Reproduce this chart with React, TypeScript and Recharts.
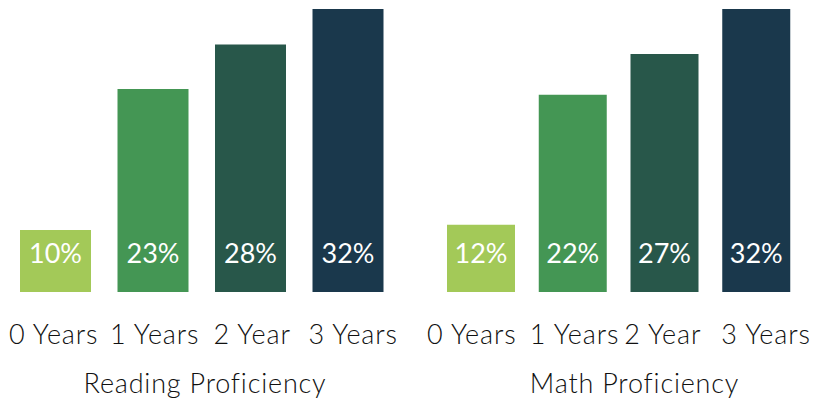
import React from 'react';
import { BarChart, Bar, XAxis, YAxis, Cell, LabelList } from 'recharts';

const categories = ['0 Years', '1 Years', '2 Year', '3 Years'];
const mathCategories = ['0 Years', '1 Years', '2 Year', '3 Years'];
const readingLabels = [10, 23, 28, 32];
const readingBars = [7.0, 22.95, 28.0, 32];
const mathLabels = [12, 22, 27, 32];
const mathBars = [7.6, 22.3, 26.9, 32];
const colors = ['#a3c958', '#449654', '#28574a', '#1a384c'];

const FONT = 'Lato, "Noto Sans", sans-serif';

function makeLabel(labels: number[]) {
  return (props: any) => {
    const { x, y, width, height, index } = props;
    return (
      <text
        x={x + width / 2}
        y={y + height - 40}
        fill="#ffffff"
        fontSize={27}
        fontFamily={FONT}
        fontWeight={400}
        textAnchor="middle"
        dominantBaseline="central"
      >
        {labels[index]}%
      </text>
    );
  };
}

function makeTick(shifts: number[]) {
  return (props: any) => {
    const { x, y, payload, index } = props;
    return (
      <text
        x={x + (shifts[index] || 0)}
        y={y + 19}
        fill="#111"
        fontSize={27}
        fontFamily={FONT}
        fontWeight={300}
        letterSpacing={0.9}
        textAnchor="middle"
      >
        {payload.value}
      </text>
    );
  };
}

function makeTitle(title: string, dx: number) {
  return (props: any) => {
    const vb = props.viewBox;
    return (
      <text
        x={vb.x + vb.width / 2 + dx}
        y={393}
        fill="#111"
        fontSize={27}
        letterSpacing={0.8}
        fontFamily={FONT}
        fontWeight={300}
        textAnchor="middle"
      >
        {title}
      </text>
    );
  };
}

function Panel(props: {
  cats: string[];
  bars: number[];
  labels: number[];
  title: string;
  left: number;
  width: number;
  mLeft: number;
  mRight: number;
  barSize: number;
  titleDx: number;
  tickShifts: number[];
}) {
  const data = props.cats.map((c, i) => ({ name: c, v: props.bars[i] }));
  return (
    <div style={{ position: 'absolute', left: props.left, top: 0 }}>
      <BarChart
        width={props.width}
        height={404}
        data={data}
        margin={{ top: 9, bottom: 0, left: props.mLeft, right: props.mRight }}
        barCategoryGap={0}
      >
        <YAxis hide domain={[0, 32]} />
        <XAxis
          dataKey="name"
          height={112}
          axisLine={false}
          tickLine={false}
          tickSize={0}
          tickMargin={33}
          interval={0}
          tick={makeTick(props.tickShifts)}
          label={{ content: makeTitle(props.title, props.titleDx) } as any}
        />
        <Bar dataKey="v" barSize={props.barSize} isAnimationActive={false}>
          {data.map((d, i) => (
            <Cell key={i} fill={colors[i]} />
          ))}
          <LabelList dataKey="v" content={makeLabel(props.labels)} />
        </Bar>
      </BarChart>
    </div>
  );
}

export default function App() {
  return (
    <div style={{ position: 'absolute', left: 0, top: 0, width: 815, height: 404, background: '#fff' }}>
      <Panel
        cats={categories}
        bars={readingBars}
        labels={readingLabels}
        title="Reading Proficiency"
        left={0}
        width={410}
        mLeft={7}
        mRight={13}
        barSize={71}
        titleDx={3}
        tickShifts={[-2, 1.5, 1.5, 5]}
      />
      <Panel
        cats={mathCategories}
        bars={mathBars}
        labels={mathLabels}
        title="Math Proficiency"
        left={410}
        width={405}
        mLeft={25}
        mRight={13}
        barSize={68}
        titleDx={16}
        tickShifts={[-9, 2, -1.5, 10]}
      />
    </div>
  );
}
